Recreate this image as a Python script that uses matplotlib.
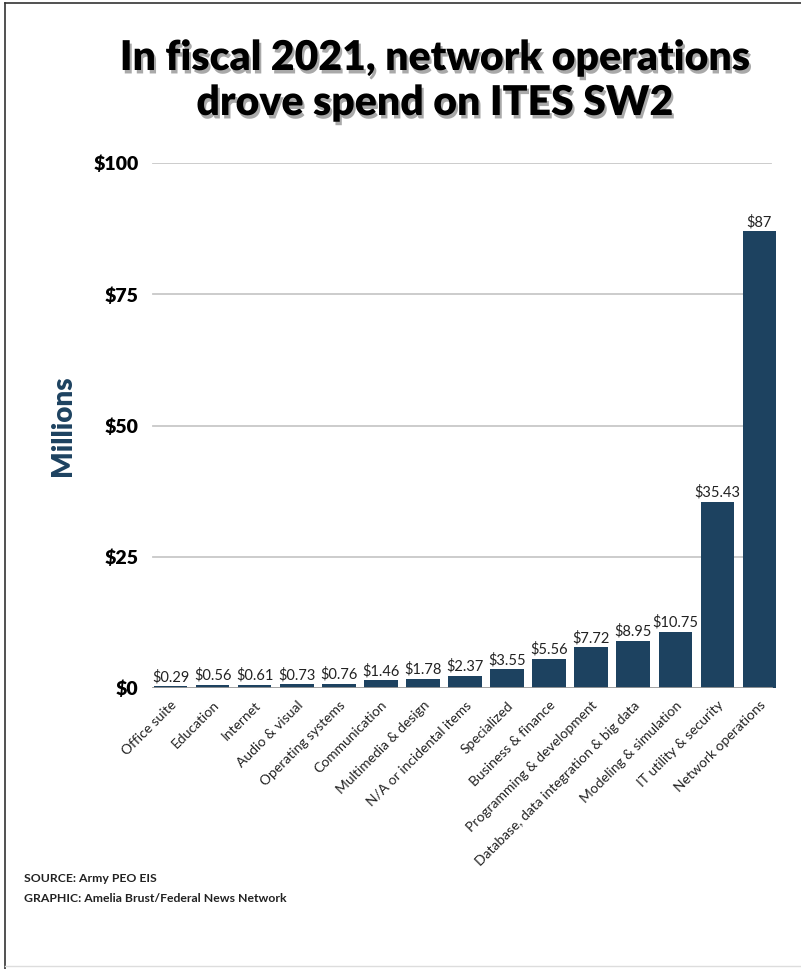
import numpy as np
import matplotlib
matplotlib.use('Agg')
import matplotlib.pyplot as plt
import matplotlib.patheffects as pe
from matplotlib.lines import Line2D

categories = ['Office suite', 'Education', 'Internet', 'Audio & visual',
              'Operating systems', 'Communication', 'Multimedia & design',
              'N/A or incidental items', 'Specialized', 'Business & finance',
              'Programming & development',
              'Database, data integration & big data',
              'Modeling & simulation', 'IT utility & security',
              'Network operations']
values = [0.29, 0.56, 0.61, 0.73, 0.76, 1.46, 1.78, 2.37, 3.55, 5.56,
          7.72, 8.95, 10.75, 35.43, 87]
value_labels = ['$0.29', '$0.56', '$0.61', '$0.73', '$0.76', '$1.46', '$1.78',
                '$2.37', '$3.55', '$5.56', '$7.72', '$8.95', '$10.75',
                '$35.43', '$87']
yticks = [0, 25, 50, 75, 100]
ytick_labels = ['$0', '$25', '$50', '$75', '$100']

bar_color = '#1d4260'
W, H = 801, 969

plt.rcParams['font.family'] = ['Lato', 'DejaVu Sans']

fig = plt.figure(figsize=(W / 100, H / 100), dpi=100)
ax = fig.add_axes([149.5 / W, (H - 688) / H, 631 / W, 525 / H])

x = np.arange(len(categories))
ax.bar(x, values, width=0.8, color=bar_color, zorder=3)
for xi, v, lab in zip(x, values, value_labels):
    ax.annotate(lab, (xi, v), xytext=(0, 1.5), textcoords='offset points',
                ha='center', va='bottom', fontsize=10.5, color='#222222', zorder=4)

ax.set_xlim(-0.5, len(categories) - 0.5)
ax.set_ylim(0, 100)
ax.set_yticks(yticks)
ax.set_yticklabels(ytick_labels, fontsize=14, fontweight='heavy')
ax.set_xticks(x)
ax.set_xticklabels(categories, rotation=45, ha='right', rotation_mode='anchor',
                   fontsize=10, color='#222222')
ax.tick_params(axis='both', length=0)
ax.tick_params(axis='y', pad=8)
ax.tick_params(axis='x', pad=8)
for s in ax.spines.values():
    s.set_visible(False)
for yv in yticks[1:]:
    ax.axhline(yv, xmin=0.005, xmax=0.985, color='#c8c8c8', lw=1.3, zorder=1)
ax.axhline(0, xmin=0.005, xmax=0.985, color='#999999', lw=2, zorder=4)

ax.set_ylabel('Millions', fontsize=20, fontweight='heavy', color='#1d4260',
              labelpad=12)

shadow = [pe.withSimplePatchShadow(offset=(1.5, -2.5), shadow_rgbFace='#555555',
                                   alpha=0.5)]
fig.text(435 / W, 1 - 58 / H, 'In fiscal 2021, network operations',
         ha='center', va='center', fontsize=29.5, fontweight='heavy',
         color='black', path_effects=shadow)
fig.text(435 / W, 1 - 103 / H, 'drove spend on ITES SW2',
         ha='center', va='center', fontsize=29.5, fontweight='heavy',
         color='black', path_effects=shadow)

fig.text(24 / W, 1 - 878 / H, 'SOURCE: Army PEO EIS', fontsize=8.8,
         fontweight='bold', color='#222222', va='center')
fig.text(24 / W, 1 - 899 / H, 'GRAPHIC: Amelia Brust/Federal News Network',
         fontsize=8.8, fontweight='bold', color='#222222', va='center')

# frame around the graphic
fig.add_artist(Line2D([5 / W, 5 / W], [0, 1 - 3 / H], color='#333333', lw=1.2))
fig.add_artist(Line2D([5 / W, 1], [1 - 3 / H, 1 - 3 / H], color='#333333', lw=1.2))
fig.add_artist(Line2D([5 / W, 1], [3 / H, 3 / H], color='#dddddd', lw=1))

fig.savefig('out.png', dpi=100)
